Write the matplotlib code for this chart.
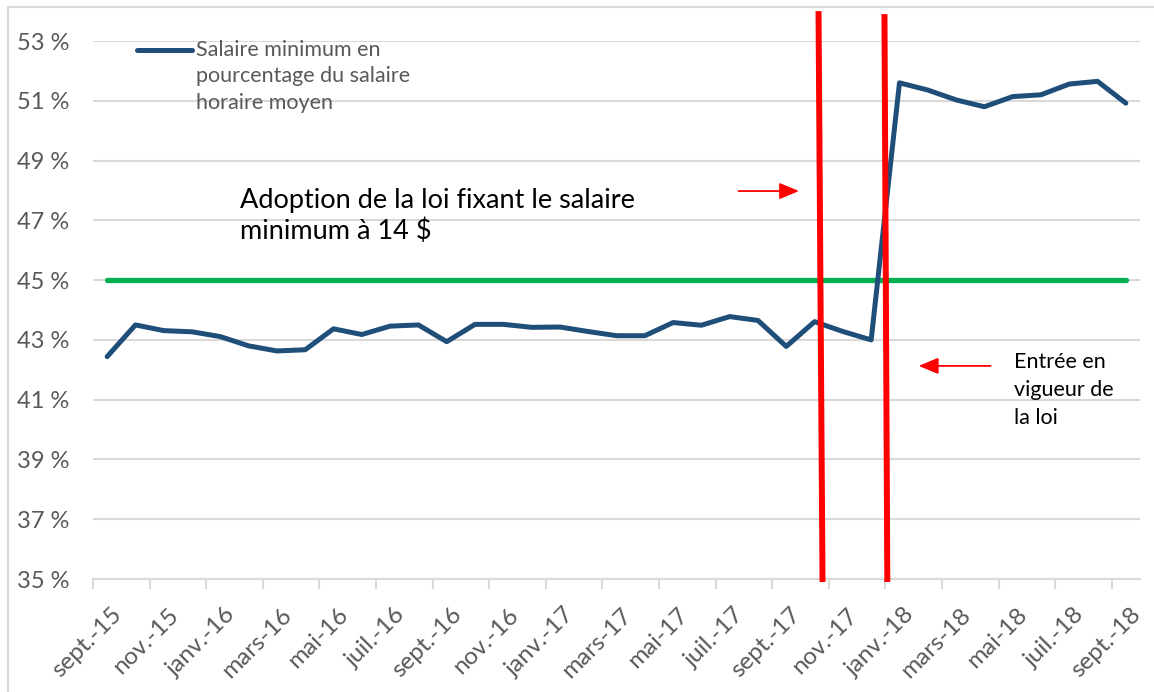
import matplotlib
matplotlib.use("Agg")
import matplotlib.pyplot as plt
import matplotlib.transforms as mtransforms
from matplotlib.lines import Line2D
import numpy as np

plt.rcParams['font.family'] = ['Lato', 'DejaVu Sans']

months = ["sept.-15", "oct.-15", "nov.-15", "déc.-15", "janv.-16", "févr.-16", "mars-16", "avr.-16",
          "mai-16", "juin-16", "juil.-16", "août-16", "sept.-16", "oct.-16", "nov.-16", "déc.-16",
          "janv.-17", "févr.-17", "mars-17", "avr.-17", "mai-17", "juin-17", "juil.-17", "août-17",
          "sept.-17", "oct.-17", "nov.-17", "déc.-17", "janv.-18", "févr.-18", "mars-18", "avr.-18",
          "mai-18", "juin-18", "juil.-18", "août-18", "sept.-18"]
ratio = [42.44, 43.50, 43.31, 43.27, 43.11, 42.80, 42.63, 42.67, 43.37, 43.18, 43.46, 43.50,
         42.94, 43.52, 43.52, 43.42, 43.43, 43.28, 43.14, 43.14, 43.58, 43.49, 43.78, 43.65,
         42.78, 43.61, 43.28, 43.00, 51.60, 51.36, 51.03, 50.80, 51.14, 51.20, 51.56, 51.65, 50.92]
threshold = [45.0] * len(months)
series_label = "Salaire minimum en\npourcentage du salaire\nhoraire moyen"
adoption_text = "Adoption de la loi fixant le salaire\nminimum à 14 $"
vigueur_text = "Entrée en\nvigueur de\nla loi"
yticks = [35, 37, 39, 41, 43, 45, 47, 49, 51, 53]
# event marker lines (x positions in month index units: top, bottom)
adoption_x = (25.14, 25.28)
vigueur_x = (27.47, 27.57)

W, H = 1154, 692
fig = plt.figure(figsize=(W / 100, H / 100), dpi=100)
ax = fig.add_axes([93 / W, 1 - 579 / H, (1140 - 93) / W, (579 - 41) / H])

x = np.arange(len(months))
ax.set_xlim(-0.5, len(months) - 0.5)
ax.set_ylim(35, 53)

grid_c = "#D9D9D9"
txt_c = "#595959"
for yv in yticks:
    ax.axhline(yv, color=grid_c, lw=1.5, zorder=0)

ax.plot(x, threshold, color="#00B050", lw=3.8, solid_capstyle="round", zorder=3)
ax.plot(x, ratio, color="#1F4E79", lw=3.6, solid_capstyle="round", solid_joinstyle="round", zorder=4)

# red vertical event lines
ax.plot(adoption_x, [53.9, 35], color="#FF0000", lw=4.3, clip_on=False, zorder=5)
ax.plot(vigueur_x, [53.8, 35], color="#FF0000", lw=4.3, clip_on=False, zorder=5)

# arrows
arrow_style = "-|>,head_length=1.2,head_width=0.5"
ax.annotate("", xy=(24.45, 47.98), xytext=(22.31, 47.98),
            arrowprops=dict(arrowstyle=arrow_style, color="#FF0000", lw=1.3,
                            shrinkA=0, shrinkB=0), zorder=6)
ax.annotate("", xy=(28.68, 42.13), xytext=(31.22, 42.13),
            arrowprops=dict(arrowstyle=arrow_style, color="#FF0000", lw=1.3,
                            shrinkA=0, shrinkB=0), zorder=6)

ax.text(4.70, 47.15, adoption_text, ha="left", va="center", fontsize=19.5, color="black",
        linespacing=1.28, zorder=6)
ax.text(32.04, 41.33, vigueur_text, ha="left", va="center", fontsize=15.5, color="black",
        linespacing=1.5, zorder=6)

# axes styling
for s in ["left", "right", "top"]:
    ax.spines[s].set_visible(False)
ax.spines["bottom"].set_color(grid_c)
ax.spines["bottom"].set_linewidth(1.5)
ax.spines["bottom"].set_zorder(0)

ax.set_yticks(yticks)
ax.set_yticklabels([f"{v} %" for v in yticks])
ax.tick_params(axis="y", length=0, pad=17, labelsize=17, labelcolor=txt_c)

ax.set_xticks(x[::2])
ax.set_xticklabels(months[::2], rotation=45, ha="right", rotation_mode="anchor")
ax.set_xticks(np.arange(-0.5, len(months), 2), minor=True)
ax.tick_params(axis="x", which="major", length=0, pad=18, labelsize=17.5, labelcolor=txt_c)
ax.tick_params(axis="x", which="minor", length=7, width=1.5, color=grid_c)
offset = mtransforms.ScaledTranslation(4 / 100, 0, fig.dpi_scale_trans)
for lbl in ax.get_xticklabels():
    lbl.set_transform(lbl.get_transform() + offset)

# legend (manual, Excel-like)
fig.add_artist(Line2D([137 / W, 192 / W], [1 - 50 / H, 1 - 50 / H], color="#1F4E79", lw=3.6,
                      solid_capstyle="round"))
fig.text(196 / W, 1 - 40 / H, series_label, ha="left", va="top", fontsize=15.5, color=txt_c,
         linespacing=1.4)

# chart frame (top and left edges visible)
fig.add_artist(Line2D([8 / W, 8 / W], [0, 1 - 7 / H], color=grid_c, lw=1.5))
fig.add_artist(Line2D([8 / W, 1], [1 - 7 / H, 1 - 7 / H], color=grid_c, lw=1.5))

fig.savefig("out.png", dpi=100)
